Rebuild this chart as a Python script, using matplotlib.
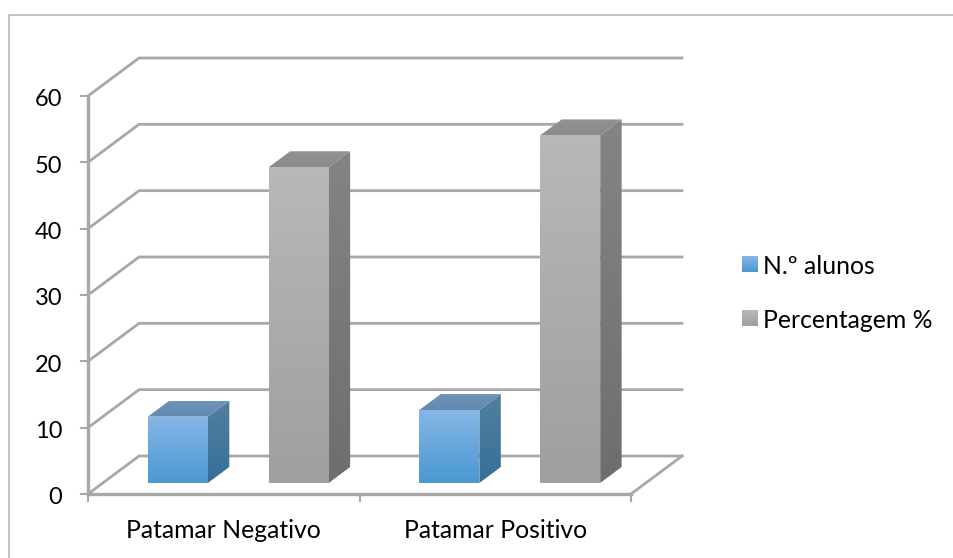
import matplotlib
matplotlib.use("Agg")
import matplotlib.pyplot as plt
import numpy as np
from matplotlib.colors import LinearSegmentedColormap
from matplotlib.lines import Line2D
from matplotlib.patches import Polygon

categories = ["Patamar Negativo", "Patamar Positivo"]
series_names = ["N.º alunos", "Percentagem %"]
alunos = [10, 11]
percentagem = [47.6, 52.4]
y_ticks = [0, 10, 20, 30, 40, 50, 60]

plt.rcParams['font.family'] = ['Lato', 'DejaVu Sans']

# oblique projection of the depth axis, in data units
depth_dx = 0.188
depth_dy = 5.73
depth_front = 0.29
depth_back = 0.71

bar_width = 0.221
bar_offsets = [0.166, 0.611]
grid_color = "#a8a8a8"
blue = {"front": ("#86b6e6", "#4a98d2"), "side": ("#52809f", "#366f98"), "top": ("#6d93b8", "#6389ad")}
grey = {"front": ("#b8b8b8", "#9f9f9f"), "side": ("#848484", "#6e6e6e"), "top": ("#929292", "#8a8a8a")}

fig = plt.figure(figsize=(9.54, 5.58), dpi=100, facecolor="white")
W, H = 954, 558
ax = fig.add_axes([88 / W, (H - 494) / H, 543 / W, 398 / H])
ax.set_xlim(0, 2)
ax.set_ylim(0, 60)
ax.axis("off")

# only the top and left sides of the chart border are visible
border_x = 9.5 / W
border_y = (H - 14.5) / H
fig.add_artist(Line2D([border_x, border_x, 1], [0, border_y, border_y], transform=fig.transFigure,
                      color="#b5b5b5", lw=1.2))


def project(x, y, d):
    return x + d * depth_dx, y + d * depth_dy


def grid_line(points, lw=2.0):
    xs, ys = zip(*points)
    ax.plot(xs, ys, color=grid_color, lw=lw, clip_on=False, zorder=1, solid_capstyle="projecting")


def face(corners, colors, z):
    corners = np.array(corners)
    poly = Polygon(corners, transform=ax.transData, fc="none", ec="none", clip_on=False)
    ax.add_patch(poly)
    cmap = LinearSegmentedColormap.from_list("face", colors)
    extent = [corners[:, 0].min(), corners[:, 0].max(), corners[:, 1].min(), corners[:, 1].max()]
    im = ax.imshow(np.linspace(0, 1, 64).reshape(-1, 1), extent=extent, cmap=cmap, aspect="auto",
                   origin="upper", zorder=z, interpolation="bilinear")
    im.set_clip_path(poly)


def bar3d(x, value, style, z):
    x2 = x + bar_width
    df, db = depth_front, depth_back
    face([project(x2, 0, df), project(x2, 0, db), project(x2, value, db), project(x2, value, df)], style["side"], z)
    face([project(x, value, df), project(x2, value, df), project(x2, value, db), project(x, value, db)], style["top"], z)
    face([project(x, 0, df), project(x2, 0, df), project(x2, value, df), project(x, value, df)], style["front"], z + 0.1)


# walls and floor
for v in y_ticks:
    grid_line([project(0, v, 0), project(0, v, 1), project(2, v, 1)])
    ax.text(-0.095, v - 0.6, str(v), ha="right", va="center", fontsize=17, color="black", clip_on=False)
    ax.plot([-0.025, 0], [v, v], color=grid_color, lw=1.5, clip_on=False, zorder=1)
grid_line([(0, 0), (0, 60)], lw=2.4)
grid_line([(0, 0), (2, 0)], lw=2.4)
grid_line([project(2, 0, 0), project(2, 0, 1)])

for i in range(3):
    ax.plot([i, i], [0, -1.0], color=grid_color, lw=1.5, clip_on=False, zorder=1)

for i, name in enumerate(categories):
    ax.text(i + 0.5, -5.5, name, ha="center", va="center", fontsize=17.8, color="black", clip_on=False)
    bar3d(i + bar_offsets[0], alunos[i], blue, 3 + i)
    bar3d(i + bar_offsets[1], percentagem[i], grey, 3 + i)

ax.set_xlim(0, 2)
ax.set_ylim(0, 60)

# legend swatches and labels
for name, style, top in zip(series_names, [blue, grey], [256, 310]):
    sw = fig.add_axes([742 / W, (H - top - 16) / H, 16 / W, 16 / H])
    sw.imshow(np.linspace(0, 1, 32).reshape(-1, 1), aspect="auto", interpolation="bilinear",
              cmap=LinearSegmentedColormap.from_list("swatch", style["front"]))
    sw.axis("off")
    fig.text(763 / W, (H - top - 18) / H, name, ha="left", va="baseline", fontsize=17.8, color="black")

plt.savefig("out.png", dpi=100)
